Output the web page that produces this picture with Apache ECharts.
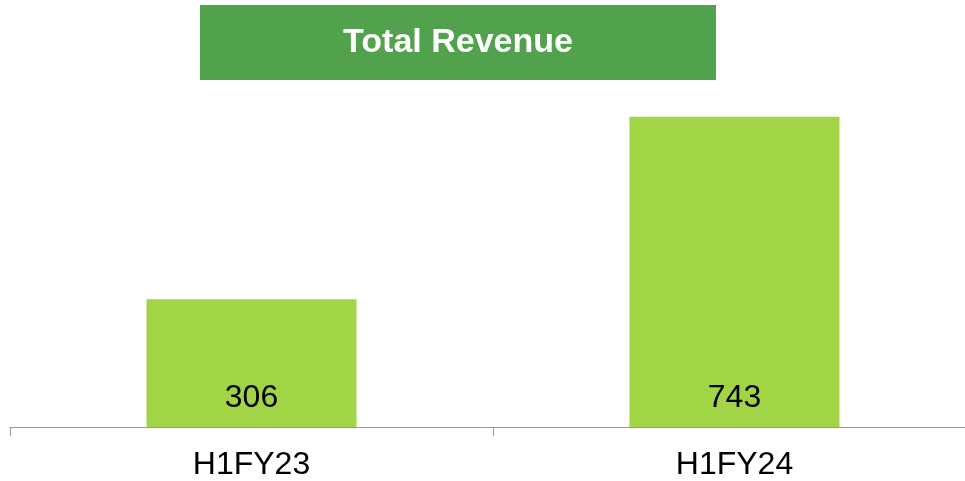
<!DOCTYPE html>
<html>
<head>
<meta charset="utf-8">
<script src="https://cdn.jsdelivr.net/npm/echarts@6/dist/echarts.min.js"></script>
<style>html,body{margin:0;padding:0;background:#fff;}#c{width:965px;height:481px;}</style>
</head>
<body>
<div id="c"></div>
<script>
const titleText = 'Total Revenue';
const categories = ['H1FY23', 'H1FY24'];
const revenue = [306, 743];

const chart = echarts.init(document.getElementById('c'), null, {renderer: 'canvas'});
chart.setOption({
  animation: false,
  backgroundColor: '#ffffff',
  graphic: [
    {type: 'rect', shape: {x: 200, y: 5, width: 516, height: 75}, style: {fill: '#52A24D'}},
    {type: 'text', x: 458, y: 43, style: {text: titleText, fill: '#ffffff', font: 'bold 34px "Liberation Sans", Arial, sans-serif', textAlign: 'center', textVerticalAlign: 'middle'}}
  ],
  grid: {left: 10, width: 966, top: 93, bottom: 54, containLabel: false, outerBoundsMode: 'none'},
  xAxis: {
    type: 'category',
    data: categories,
    axisLine: {lineStyle: {color: '#999999', width: 1}},
    axisTick: {show: true, length: 9, lineStyle: {color: '#999999'}},
    axisLabel: {fontSize: 32, color: '#000000', fontFamily: '"Liberation Sans", Arial, sans-serif', margin: 22}
  },
  yAxis: {
    type: 'value', min: 0, max: 800, show: false,
    splitLine: {show: false}
  },
  series: [{
    type: 'bar',
    data: revenue,
    barWidth: 210,
    itemStyle: {color: '#A1D545'},
    label: {show: true, position: 'insideBottom', distance: 13, fontSize: 32, color: '#000000', fontFamily: '"Liberation Sans", Arial, sans-serif'}
  }]
});
</script>
</body>
</html>
